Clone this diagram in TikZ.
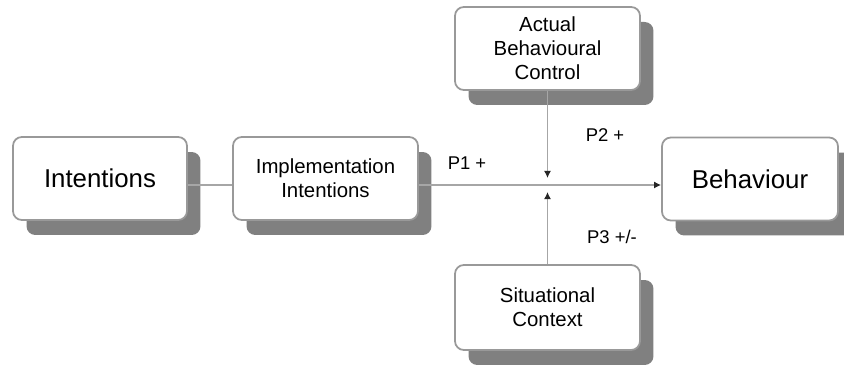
\documentclass[tikz,border=0pt]{standalone}
\usepackage{fontspec}
\setmainfont{Liberation Sans}
\usetikzlibrary{shadows,arrows.meta}
\tikzset{
    tpb box/.style={draw=black!40, line width=1pt, fill=white,
                    rounded corners=5pt, align=center,
                    minimum height=1.66cm,
                    drop shadow={shadow xshift=0.27cm, shadow yshift=-0.3cm,
                                 fill=black!50, opacity=1}},
    tpb big/.style={tpb box, font=\fontsize{14.7}{16}\selectfont},
    tpb small/.style={tpb box, font=\fontsize{11.6}{13.6}\selectfont},
    tpb line/.style={black!35, line width=1pt},
    tpb arrow/.style={tpb line, -{Latex[length=4pt,width=4pt,black!85]}},
    tpb label/.style={font=\fontsize{10.5}{12}\selectfont},
}
\begin{document}
\begin{tikzpicture}[x=0.02cm, y=-0.02cm]
    \useasboundingbox (0,0) rectangle (844,367);
    % Boxes
    \node[tpb big, minimum width=3.48cm] (intent) at (100,178.5) {Intentions};
    \node[tpb small, minimum width=3.7cm] (impl) at (325.5,178.5)
          {Implementation\\Intentions};
    \node[tpb big, minimum width=3.52cm] (behav) at (750,179) {Behaviour};
    \node[tpb small, minimum width=3.7cm] (actual) at (547.5,48.5)
          {Actual\\Behavioural\\Control};
    \node[tpb small, minimum width=3.7cm, minimum height=1.7cm] (context)
          at (547.5,307.5) {Situational\\Context};
    % Junction of the moderators
    \coordinate (hub) at (547.5,185);
    % Connectors
    \draw[tpb line] (intent.east |- hub) -- (impl.west |- hub);
    \draw[tpb arrow] (impl.east |- hub) -- (behav.west |- hub);
    \draw[tpb arrow, shorten >=0.14cm] (actual.south) -- (hub);
    \draw[tpb arrow, shorten >=0.14cm] (context.north) -- (hub);
    % Path labels
    \node[tpb label] (p1) at (467,163) {P1 +};
    \node[tpb label] (p2) at (605,135) {P2 +};
    \node[tpb label] (p3) at (612,237) {P3 +/-};
\end{tikzpicture}
\end{document}
